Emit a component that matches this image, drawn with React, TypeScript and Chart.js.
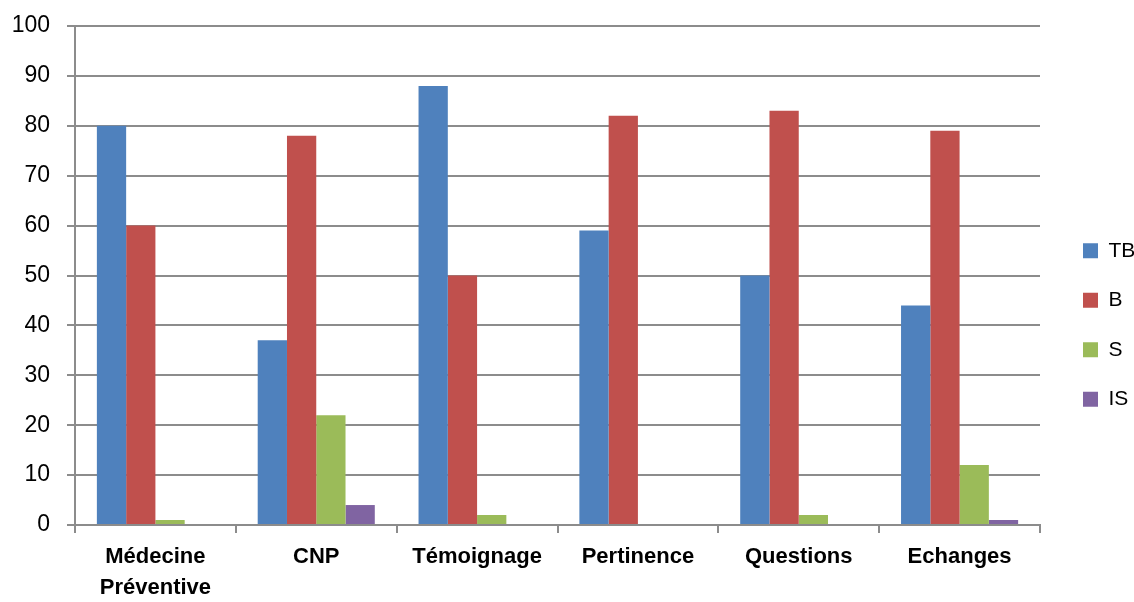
import React, { useEffect, useRef } from "react";
import { Chart, registerables } from "chart.js";

Chart.register(...registerables);

const categories: (string | string[])[] = [
  ["Médecine", "Préventive"],
  "CNP",
  "Témoignage",
  "Pertinence",
  "Questions",
  "Echanges",
];
const seriesNames = ["TB", "B", "S", "IS"];
const tbValues = [80, 37, 88, 59, 50, 44];
const bValues = [60, 78, 50, 82, 83, 79];
const sValues = [1, 22, 2, 0, 2, 12];
const isValues = [0, 4, 0, 0, 0, 1];
const seriesColors = ["#4F81BD", "#C0504D", "#9BBB59", "#8064A2"];
const yMin = 0;
const yMax = 100;
const yStep = 10;

const FONT = '"Liberation Sans", Arial, sans-serif';
const GRID = "#8c8c8c";

export default function App() {
  const ref = useRef<HTMLCanvasElement>(null);
  useEffect(() => {
    if (!ref.current) return;
    const values = [tbValues, bValues, sValues, isValues];
    const chart = new Chart(ref.current, {
      type: "bar",
      data: {
        labels: categories,
        datasets: seriesNames.map((name, i) => ({
          label: name,
          data: values[i],
          backgroundColor: seriesColors[i],
          borderWidth: 0,
          barPercentage: 1,
          categoryPercentage: 0.728,
          yAxisID: "y",
        })),
      },
      options: {
        animation: false,
        responsive: true,
        maintainAspectRatio: false,
        layout: { padding: { top: 26, left: 0, right: 0, bottom: 0 } },
        plugins: {
          tooltip: { enabled: false },
          legend: {
            position: "right",
            maxWidth: 79.5,
            title: { display: true, text: " ", font: { size: 10 }, padding: 5 },
            labels: {
              boxWidth: 15,
              boxHeight: 15,
              padding: 28.5,
              color: "#000",
              font: { family: FONT, size: 21 },
            },
          },
        },
        scales: {
          x: {
            grid: {
              display: true,
              drawOnChartArea: false,
              drawTicks: true,
              tickLength: 8,
              color: GRID,
              lineWidth: 2,
              offset: true,
            },
            border: { display: true, color: GRID, width: 2 },
            ticks: {
              color: "#000",
              padding: 9,
              maxRotation: 0,
              autoSkip: false,
              font: { family: FONT, size: 22, weight: "bold", lineHeight: 1.4 },
            },
            afterFit: (s: any) => {
              s.height = 77;
            },
          },
          y: {
            min: yMin,
            max: yMax,
            ticks: {
              stepSize: yStep,
              color: "#000",
              padding: 17,
              font: { family: FONT, size: 23 },
            },
            grid: { color: GRID, lineWidth: 2, tickLength: 8, drawTicks: true },
            border: { display: true, color: GRID, width: 2 },
            afterFit: (s: any) => {
              s.width = 75;
              s.paddingTop = 0;
              s.paddingBottom = 0;
            },
          },
          y2: {
            position: "right",
            display: true,
            ticks: { display: false },
            grid: { display: false },
            border: { display: false },
            afterFit: (s: any) => {
              s.width = 14.5;
              s.paddingTop = 0;
              s.paddingBottom = 0;
            },
          },
        },
      } as any,
    });
    return () => chart.destroy();
  }, []);
  return (
    <div style={{ position: "absolute", left: 0, top: 0, width: 1134, height: 602, background: "#fff" }}>
      <canvas ref={ref} />
    </div>
  );
}
